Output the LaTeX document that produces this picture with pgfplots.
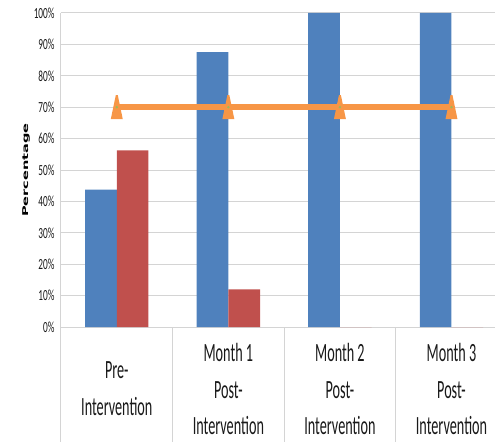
\documentclass[border=0pt]{standalone}
\usepackage{pgfplots}
\pgfplotsset{compat=1.18}
\usepackage{fontspec}
\setmainfont{Carlito}
\newfontfamily\tickfont[FakeStretch=0.6]{Carlito}
\newfontfamily\catfont[FakeStretch=0.54]{Carlito}
\newfontfamily\labfont{DejaVu Sans}

\definecolor{xlblue}{HTML}{4F81BD}
\definecolor{xlred}{HTML}{C0504D}
\definecolor{xlorange}{HTML}{F79646}
\definecolor{xlgreen}{HTML}{9BBB59}
\definecolor{gridgray}{HTML}{D4D4D4}

% tall narrow triangle, like the Excel marker
\pgfdeclareplotmark{cone}{%
  \pgfpathmoveto{\pgfpoint{-1bp}{12bp}}%
  \pgfpathlineto{\pgfpoint{1bp}{12bp}}%
  \pgfpathlineto{\pgfpoint{6bp}{-12bp}}%
  \pgfpathlineto{\pgfpoint{-6bp}{-12bp}}%
  \pgfpathclose
  \pgfusepathqfill}

\begin{document}
\begin{tikzpicture}
\useasboundingbox (-61bp,-115bp) rectangle (434bp,327bp);
\begin{axis}[
    at={(0,0)}, anchor=south west,
    width=434bp, height=314bp, scale only axis,
    xmin=-0.5, xmax=3.39,
    ymin=0, ymax=100,
    axis lines*=left,
    axis line style={draw=gridgray, line width=1bp},
    ymajorgrids,
    grid style={draw=gridgray, line width=1bp},
    major tick length=0pt,
    ytick={0,10,...,100},
    yticklabels={0\%,10\%,20\%,30\%,40\%,50\%,60\%,70\%,80\%,90\%,100\%},
    yticklabel style={font=\tickfont\fontsize{15.5}{18}\selectfont, text=black!90, xshift=-3bp},
    xtick={0,1,2,3},
    xticklabels={Pre-\\Intervention, Month 1\\Post-\\Intervention, Month 2\\Post-\\Intervention, Month 3\\Post-\\Intervention},
    xticklabel style={font=\catfont\fontsize{26.4}{37}\selectfont, align=center, anchor=center, yshift=-62bp, text=black!90},
    extra x ticks={-0.5,0.5,1.5,2.5},
    extra x tick labels={},
    extra x tick style={grid=none, major tick length=115bp, tick align=outside,
      tick style={draw=gridgray, line width=1bp}},
    clip=false,
]
    \addplot[ybar, bar width=31.7bp, bar shift=-15.85bp, fill=xlblue, draw=none]
      coordinates {(0,43.75) (1,87.5) (2,100) (3,100)};
    \addplot[ybar, bar width=31.7bp, bar shift=15.85bp, fill=xlred, draw=none]
      coordinates {(0,56.25) (1,12) (2,0) (3,0)};
    \addplot[xlorange, line width=6bp, mark=cone, mark options={fill=xlorange}]
      coordinates {(0,70) (1,70) (2,70) (3,70)};
    \addplot[only marks, mark=*, mark size=1bp, xlgreen]
      coordinates {(0,70) (1,70) (2,70) (3,70)};
\end{axis}
% y axis title, squeezed across like the rest of the picture
\node[rotate=90, anchor=center, inner sep=0pt] at (-35bp,157bp)
  {\scalebox{1}[0.55]{\labfont\bfseries\fontsize{14.6}{16}\selectfont Percentage}};
\end{tikzpicture}
\end{document}
